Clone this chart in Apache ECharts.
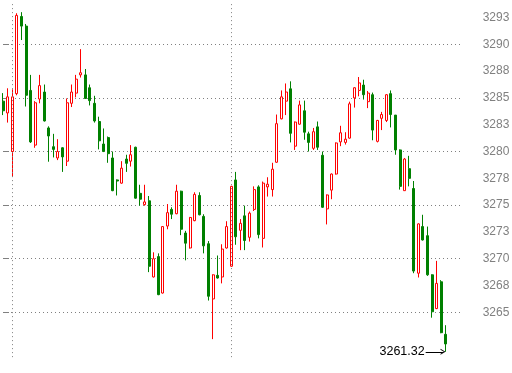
<!DOCTYPE html>
<html>
<head>
<meta charset="utf-8">
<script src="https://cdn.jsdelivr.net/npm/echarts@6/dist/echarts.min.js"></script>
<style>html,body{margin:0;padding:0;background:#fff}#c{width:512px;height:373px}</style>
</head>
<body>
<div id="c"></div>
<script>
// ---- data ----
const categories = Array.from({length: 99}, (_, i) => String(i + 1));
const opens  = [3287.70,3284.70,3283.60,3280.00,3285.40,3292.60,3291.70,3285.70,3280.60,3284.90,
                3285.55,3282.20,3280.45,3279.40,3280.35,3279.10,3284.50,3285.45,3287.15,3287.15,
                3285.95,3284.50,3282.80,3280.70,3281.30,3279.40,3277.35,3277.05,3279.30,3279.10,
                3280.40,3276.10,3275.05,3275.40,3268.30,3270.20,3266.80,3273.05,3274.60,3274.20,
                3276.30,3272.40,3271.00,3273.55,3275.90,3273.95,3271.40,3266.25,3268.45,3268.30,
                3271.00,3269.30,3277.35,3272.65,3274.00,3272.00,3274.60,3276.70,3271.90,3276.70,
                3276.45,3279.00,3283.05,3284.70,3285.85,3280.50,3282.55,3283.80,3281.65,3280.30,
                3282.30,3279.65,3274.65,3276.40,3277.90,3280.90,3280.85,3281.25,3285.00,3285.70,
                3286.20,3284.65,3285.30,3280.95,3283.10,3282.90,3285.40,3283.40,3280.15,3276.35,
                3278.40,3276.55,3268.65,3273.00,3272.15,3268.50,3265.35,3267.85,3262.95];
const closes = [3285.45,3283.80,3285.10,3285.10,3292.70,3291.70,3285.25,3280.90,3284.55,3286.15,
                3282.85,3281.45,3280.20,3280.00,3279.50,3284.55,3285.55,3286.75,3287.35,3284.95,
                3284.75,3282.85,3281.00,3280.00,3279.80,3276.35,3277.25,3278.45,3278.90,3279.70,
                3275.65,3275.55,3275.30,3269.30,3270.00,3266.65,3273.00,3274.30,3274.15,3276.30,
                3272.75,3271.45,3273.85,3276.00,3274.10,3271.20,3266.50,3268.50,3268.20,3270.90,
                3273.00,3276.75,3272.05,3273.30,3271.70,3274.25,3276.45,3272.25,3277.05,3276.95,
                3278.35,3282.60,3285.10,3285.55,3281.70,3282.75,3284.35,3281.80,3280.85,3281.85,
                3280.40,3274.80,3275.95,3277.90,3280.80,3281.75,3281.15,3284.45,3285.95,3286.40,
                3285.30,3285.45,3282.00,3282.90,3283.45,3285.30,3283.45,3280.15,3276.75,3279.30,
                3277.50,3268.85,3273.25,3271.75,3268.50,3265.05,3267.70,3263.10,3262.05];
const lows   = [3285.00,3283.40,3282.70,3277.65,3285.25,3290.40,3284.20,3280.80,3280.35,3284.50,
                3282.80,3279.05,3279.45,3279.20,3278.10,3278.65,3284.15,3285.05,3286.90,3284.90,
                3284.30,3282.70,3280.20,3279.95,3278.95,3276.30,3275.90,3277.00,3278.10,3278.60,
                3275.60,3274.95,3274.95,3268.75,3268.25,3266.60,3266.75,3272.75,3273.70,3274.15,
                3272.20,3269.85,3270.95,3273.50,3274.05,3270.50,3266.10,3262.50,3268.15,3267.70,
                3270.95,3269.25,3271.30,3270.80,3270.80,3271.60,3274.45,3271.90,3271.05,3275.80,
                3275.80,3278.95,3283.00,3283.40,3280.85,3280.15,3282.50,3281.10,3280.00,3280.15,
                3280.15,3274.75,3273.20,3275.55,3277.85,3280.50,3280.65,3281.20,3284.10,3285.15,
                3284.85,3284.05,3281.05,3280.85,3282.00,3282.75,3282.25,3279.70,3276.45,3276.35,
                3276.75,3268.65,3268.25,3271.70,3268.40,3264.50,3265.30,3263.05,3261.32];
const highs  = [3287.75,3285.45,3285.90,3285.80,3292.90,3293.00,3291.90,3287.15,3284.70,3287.15,
                3286.25,3282.35,3281.65,3281.15,3280.40,3284.95,3286.25,3287.15,3289.55,3287.70,
                3286.25,3285.20,3283.25,3282.15,3281.40,3280.00,3277.40,3279.10,3279.70,3280.60,
                3280.45,3276.90,3276.90,3275.85,3270.60,3270.50,3273.05,3275.10,3274.80,3276.90,
                3276.35,3272.60,3273.90,3276.20,3276.20,3274.15,3271.65,3268.55,3270.30,3271.35,
                3273.50,3276.80,3278.10,3273.70,3274.95,3274.40,3276.75,3276.85,3277.20,3277.60,
                3278.95,3283.45,3285.70,3286.35,3286.55,3282.80,3284.75,3284.75,3281.85,3282.20,
                3282.80,3280.00,3276.00,3277.95,3280.85,3282.40,3281.80,3284.65,3286.00,3286.95,
                3286.70,3285.65,3285.50,3282.95,3283.70,3285.35,3285.70,3283.40,3280.20,3279.40,
                3279.60,3277.25,3273.30,3274.10,3273.00,3268.55,3269.80,3268.00,3263.80];
const tickValues = [3265, 3267.5, 3270, 3272.5, 3275, 3277.5, 3280, 3282.5, 3285, 3287.5, 3290, 3292.5];
const tickLabels = ['3265','3268','3270','3273','3275','3278','3280','3283','3285','3288','3290','3293'];
const sessionStarts = [3, 51];   // bars where a new session begins (dotted vertical lines)

// ---- chart ----
const padCats = ['p1', 'p2', 'p3'];
const allCats = categories.concat(padCats);
const nCats = allCats.length;
const candleData = categories.map((_, i) => [opens[i], closes[i], lows[i], highs[i]]);
const lastIdx = categories.length - 1;
const lastLow = lows[lastIdx];

const FONT = '"Liberation Sans", Arial, sans-serif';
const GRAY = '#808080';
const DOT = {color: GRAY, width: 1, type: [1, 3]};

// pixel layout
const axisX = 461.7;
const plotLeft = -3.65;
const plotW = axisX - plotLeft;
const pxPerUnit = 10.72;
const y3290 = 44.33;
const yOf = v => y3290 + (3290 - v) * pxPerUnit;

const chart = echarts.init(document.getElementById('c'), null, {renderer: 'canvas'});
chart.setOption({
  animation: false,
  backgroundColor: '#ffffff',
  grid: [
    {left: plotLeft, width: plotW, top: yOf(3295), height: yOf(3255) - yOf(3295), outerBoundsMode: 'none', containLabel: false},
    {left: 3, width: axisX - 3, top: yOf(3290), height: yOf(3265) - yOf(3290), outerBoundsMode: 'none', containLabel: false},
    {left: plotLeft, width: plotW, top: yOf(3293.75), height: yOf(3265) - yOf(3293.75), outerBoundsMode: 'none', containLabel: false}
  ],
  xAxis: [
    {type: 'category', gridIndex: 0, data: allCats, boundaryGap: true, show: false},
    {type: 'value', gridIndex: 1, show: false, min: 0, max: 1},
    {type: 'value', gridIndex: 2, show: false, min: 0, max: 1},
    {type: 'value', gridIndex: 0, show: false, min: -0.5, max: nCats - 0.5}
  ],
  yAxis: [
    {type: 'value', gridIndex: 0, position: 'right', min: 3255, max: 3295, interval: 5, scale: true,
     axisLine: {show: true, lineStyle: {color: GRAY, width: 1}},
     axisTick: {show: false}, axisLabel: {show: false}, splitLine: {show: false}},
    {type: 'value', gridIndex: 1, position: 'right', min: 3265, max: 3290, interval: 5, scale: true,
     axisLine: {show: false},
     axisTick: {show: true, length: 6, lineStyle: {color: GRAY}},
     axisLabel: {show: false},
     splitLine: {show: true, lineStyle: DOT}},
    {type: 'value', gridIndex: 2, position: 'right', min: 3265, max: 3293.75, interval: 1.25, scale: true,
     axisLine: {show: false},
     axisTick: {show: true, length: 3, lineStyle: {color: GRAY}},
     splitLine: {show: false},
     axisLabel: {show: true, margin: 21, color: GRAY, fontSize: 12, fontFamily: FONT,
       formatter: v => {
         const k = tickValues.findIndex(t => Math.abs(t - v) < 1e-6);
         return k >= 0 ? tickLabels[k] : '';
       }}}
  ],
  series: [
    {
      type: 'candlestick', xAxisIndex: 0, yAxisIndex: 0,
      data: candleData,
      barWidth: 2.5,
      itemStyle: {color: '#ffffff', color0: '#008000', borderColor: '#ff0000', borderColor0: '#008000', borderWidth: 1},
      emphasis: {disabled: true},
      markLine: {
        silent: true, symbol: ['none', 'none'], animation: false,
        label: {show: false},
        lineStyle: DOT,
        data: sessionStarts.map(i => [
          {coord: [categories[i], 3293.75]},
          {coord: [categories[i], 3260.75]}
        ])
      }
    },
    {
      type: 'line', xAxisIndex: 3, yAxisIndex: 0,
      data: [[lastIdx, lastLow]], showSymbol: false, symbol: 'none',
      lineStyle: {opacity: 0}, silent: true,
      markLine: {
        silent: true, animation: false,
        symbol: ['none', 'path://M0,12 L6,0 L12,12 L10,12 L6,4 L2,12 Z'],
        symbolSize: [6, 5],
        lineStyle: {color: '#000000', width: 1, type: 'solid'},
        label: {show: true, position: 'start', distance: 1, color: '#000000', fontSize: 12.5, fontFamily: FONT,
                formatter: () => lastLow.toFixed(2)},
        data: [[
          {coord: [lastIdx - 4.4, lastLow]},
          {coord: [lastIdx - 0.6, lastLow]}
        ]]
      }
    }
  ]
});
</script>
</body>
</html>
